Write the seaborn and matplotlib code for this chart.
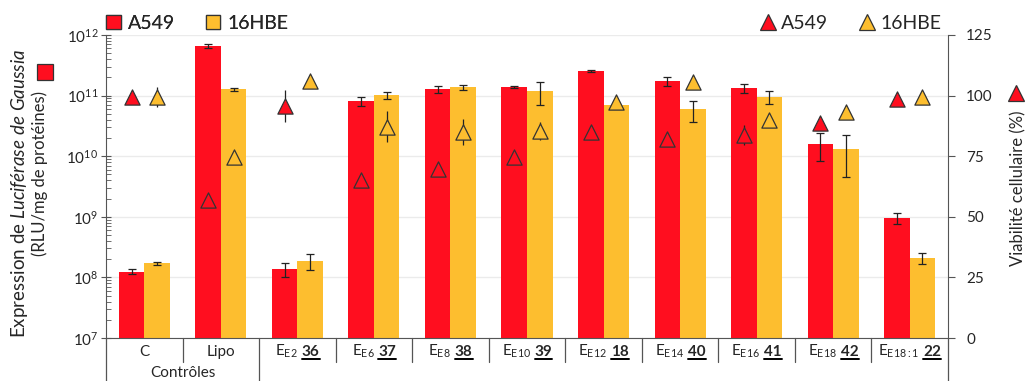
import matplotlib
matplotlib.use("Agg")
import matplotlib.pyplot as plt
import matplotlib.transforms as mtransforms
from matplotlib.lines import Line2D
from matplotlib.patches import Patch
import numpy as np
import pandas as pd
import seaborn as sns

# ---------------------------------------------------------------------------
# Data
# ---------------------------------------------------------------------------
groupes = ["C", "Lipo", "E2", "E6", "E8", "E10", "E12", "E14", "E16", "E18", "E18:1"]
prefixes = ["C", "Lipo",
            r"E$_{\mathregular{E2}}$", r"E$_{\mathregular{E6}}$", r"E$_{\mathregular{E8}}$",
            r"E$_{\mathregular{E10}}$", r"E$_{\mathregular{E12}}$", r"E$_{\mathregular{E14}}$",
            r"E$_{\mathregular{E16}}$", r"E$_{\mathregular{E18}}$", r"E$_{\mathregular{E18{:}1}}$"]
numeros = ["", "", "36", "37", "38", "39", "18", "40", "41", "42", "22"]
lignees = ["A549", "16HBE"]

expr_a549 = [1.24e8, 6.6e11, 1.36e8, 8.2e10, 1.28e11, 1.37e11, 2.55e11, 1.72e11, 1.32e11, 1.6e10, 9.7e8]
err_a549 = [1.2e7, 5e10, 3.5e7, 1.4e10, 1.8e10, 5e9, 1.3e10, 3e10, 2.3e10, 7.8e9, 2e8]
expr_16hbe = [1.7e8, 1.28e11, 1.9e8, 1.02e11, 1.37e11, 1.17e11, 6.9e10, 5.9e10, 9.6e10, 1.33e10, 2.07e8]
err_16hbe = [1.2e7, 7e9, 5.5e7, 1.4e10, 1.2e10, 4.8e10, 0, 2.3e10, 2.4e10, 8.8e9, 4.3e7]

viab_a549 = [99.5, 56.9, 95.7, 65.2, 69.7, 74.8, 84.8, 82.0, 83.7, 88.8, 98.5]
viab_err_a549 = [0, 0, 6.5, 0, 0, 0, 1, 2, 4, 1, 2.7]
viab_16hbe = [99.5, 74.8, 106.0, 87.2, 85.1, 85.4, 97.5, 105.7, 89.9, 93.3, 99.5]
viab_err_16hbe = [4, 0, 0, 6.5, 5.3, 3.8, 2, 0, 2, 1, 1]

ROUGE = "#FF0E1F"
JAUNE = "#FDBE2F"
BORD = "#333333"

# ---------------------------------------------------------------------------
# Style
# ---------------------------------------------------------------------------
sns.set_style("white")
plt.rcParams["font.family"] = ["Lato", "DejaVu Sans"]
plt.rcParams["mathtext.fontset"] = "custom"
plt.rcParams["mathtext.rm"] = "Lato"
plt.rcParams["mathtext.it"] = "Lato:italic"
plt.rcParams["mathtext.bf"] = "Lato:bold"
plt.rcParams["mathtext.default"] = "regular"

df = pd.DataFrame({
    "groupe": groupes * 2,
    "lignee": ["A549"] * len(groupes) + ["16HBE"] * len(groupes),
    "expr": expr_a549 + expr_16hbe,
})

fig = plt.figure(figsize=(10.26, 3.81), dpi=100)
ax = fig.add_axes([106 / 1026, 43 / 381, 842 / 1026, 303 / 381])
ax.set_yscale("log")

sns.barplot(data=df, x="groupe", y="expr", hue="lignee", hue_order=lignees,
            palette=[ROUGE, JAUNE], width=2 / 3, errorbar=None, saturation=1,
            legend=False, ax=ax, linewidth=0)
ax.set_ylim(1e7, 1e12)
ax.set_xlim(-0.5, len(groupes) - 0.5)

# bar centres, in category order: red, yellow, red, yellow...
bars = sorted(ax.patches, key=lambda p: p.get_x())
cx = np.array([b.get_x() + b.get_width() / 2 for b in bars])
cx_a549, cx_16hbe = cx[0::2], cx[1::2]

ax.errorbar(cx_a549, expr_a549, yerr=err_a549, fmt="none", ecolor="#222222",
            elinewidth=0.9, capsize=3, capthick=0.9, zorder=4)
ax.errorbar(cx_16hbe, expr_16hbe, yerr=err_16hbe, fmt="none", ecolor="#222222",
            elinewidth=0.9, capsize=3, capthick=0.9, zorder=4)

ax.yaxis.grid(True, which="major", color="#ebebeb", linewidth=1)
ax.set_axisbelow(True)
ax.set_xlabel("")
ax.set_ylabel("")
ax.set_xticks([])
for s in ["top", "right"]:
    ax.spines[s].set_visible(False)
ax.spines["left"].set_color("#555555")
ax.spines["bottom"].set_color("#555555")
ax.tick_params(axis="y", which="major", direction="inout", length=7, width=0.8,
               color="#555555", labelsize=11, pad=2)
ax.tick_params(axis="y", which="minor", direction="in", length=3.5, width=0.6,
               color="#555555")

# ---------------------------------------------------------------------------
# Viability (right axis)
# ---------------------------------------------------------------------------
ax2 = ax.twinx()
ax2.set_ylim(0, 125)
ax2.set_yticks([0, 25, 50, 75, 100, 125])
ax2.errorbar(cx_a549, viab_a549, yerr=viab_err_a549, fmt="none", ecolor="#222222",
             elinewidth=0.9, capsize=0, zorder=3)
ax2.errorbar(cx_16hbe, viab_16hbe, yerr=viab_err_16hbe, fmt="none", ecolor="#222222",
             elinewidth=0.9, capsize=0, zorder=3)
sns.scatterplot(x=cx_a549, y=viab_a549, marker="^", s=120, color=ROUGE,
                edgecolor=BORD, linewidth=0.9, ax=ax2, zorder=5, legend=False)
sns.scatterplot(x=cx_16hbe, y=viab_16hbe, marker="^", s=120, color=JAUNE,
                edgecolor=BORD, linewidth=0.9, ax=ax2, zorder=5, legend=False)
for s in ["top", "left", "bottom"]:
    ax2.spines[s].set_visible(False)
ax2.spines["right"].set_color("#555555")
ax2.tick_params(axis="y", direction="out", length=5, width=0.8, color="#555555",
                labelsize=11, pad=8)
ax2.set_ylabel("")

# ---------------------------------------------------------------------------
# Category labels below the axis
# ---------------------------------------------------------------------------
trans = mtransforms.blended_transform_factory(ax.transData, ax.transAxes)
renderer = fig.canvas.get_renderer()
y_lab = -(356 - 338) / 303
for i, (pre, num) in enumerate(zip(prefixes, numeros)):
    if not num:
        ax.text(i, y_lab, pre, transform=trans, ha="center", va="baseline", fontsize=11)
        continue
    t1 = ax.text(i, y_lab, pre, transform=trans, ha="left", va="baseline", fontsize=11)
    t2 = ax.text(i, y_lab, num, transform=trans, ha="left", va="baseline", fontsize=11,
                 fontweight="bold")
    w1 = t1.get_window_extent(renderer).width
    w2 = t2.get_window_extent(renderer).width
    gap = 4
    tot = w1 + gap + w2
    t1.set_transform(mtransforms.offset_copy(trans, fig=fig, x=-tot / 2, y=0, units="dots"))
    t2.set_transform(mtransforms.offset_copy(trans, fig=fig, x=-tot / 2 + w1 + gap, y=0,
                                             units="dots"))
    bb = t2.get_window_extent(renderer)
    yline = ax.transAxes.transform((0, y_lab))[1] - 2.5
    fig.add_artist(Line2D([bb.x0 / fig.bbox.width, bb.x1 / fig.bbox.width],
                          [yline / fig.bbox.height] * 2, color="black", linewidth=1.4))

ax.text(0.5, -(377 - 338) / 303, "Contrôles", transform=trans, ha="center",
        va="baseline", fontsize=11)

# separators under the axis
for b in np.arange(0.5, len(groupes) - 1, 1.0):
    bas = -(381 - 338) / 303 if b == 1.5 else -(362 - 338) / 303
    ax.plot([b, b], [0, bas], transform=trans, color="#555555", linewidth=0.9,
            clip_on=False)
for b in [-0.5, len(groupes) - 0.5]:
    ax.plot([b, b], [0, -(381 - 338) / 303], transform=trans, color="#555555",
            linewidth=0.9, clip_on=False)

# ---------------------------------------------------------------------------
# Axis titles and legends
# ---------------------------------------------------------------------------
fig.text(20 / 1026, 1 - 193 / 381,
         r"Expression de $\mathit{Luciférase\ de\ Gaussia}$",
         rotation=90, ha="center", va="center", fontsize=13.5)
fig.text(40 / 1026, 1 - 173 / 381, "(RLU/mg de protéines)",
         rotation=90, ha="center", va="center", fontsize=12)
fig.add_artist(Line2D([45 / 1026], [1 - 72 / 381], marker="s", markersize=11,
                      markerfacecolor=ROUGE, markeredgecolor=BORD, markeredgewidth=0.9,
                      linestyle="none"))
fig.text(1018 / 1026, 1 - 188 / 381, "Viabilité cellulaire (%)",
         rotation=90, ha="center", va="center", fontsize=12)
fig.add_artist(Line2D([1016 / 1026], [1 - 93 / 381], marker="^", markersize=11,
                      markerfacecolor=ROUGE, markeredgecolor=BORD, markeredgewidth=0.9,
                      linestyle="none"))

h_bars = [Patch(facecolor=ROUGE, edgecolor=BORD, linewidth=0.9),
          Patch(facecolor=JAUNE, edgecolor=BORD, linewidth=0.9)]
leg1 = ax.legend(h_bars, lignees, loc="lower left", bbox_to_anchor=(-0.002, 1.005),
                 ncol=2, frameon=False, fontsize=14, handlelength=0.75,
                 handleheight=0.75, handletextpad=0.35, columnspacing=1.6,
                 borderaxespad=0, borderpad=0.1)
ax.add_artist(leg1)

h_tri = [Line2D([], [], marker="^", linestyle="none", markersize=11,
                markerfacecolor=ROUGE, markeredgecolor=BORD, markeredgewidth=0.9),
         Line2D([], [], marker="^", linestyle="none", markersize=11,
                markerfacecolor=JAUNE, markeredgecolor=BORD, markeredgewidth=0.9)]
ax2.legend(h_tri, lignees, loc="lower right", bbox_to_anchor=(0.995, 1.005),
           ncol=2, frameon=False, fontsize=14, handlelength=0.8,
           handletextpad=0.3, columnspacing=1.6, borderaxespad=0, borderpad=0.1)

fig.savefig("out.png", dpi=100)
